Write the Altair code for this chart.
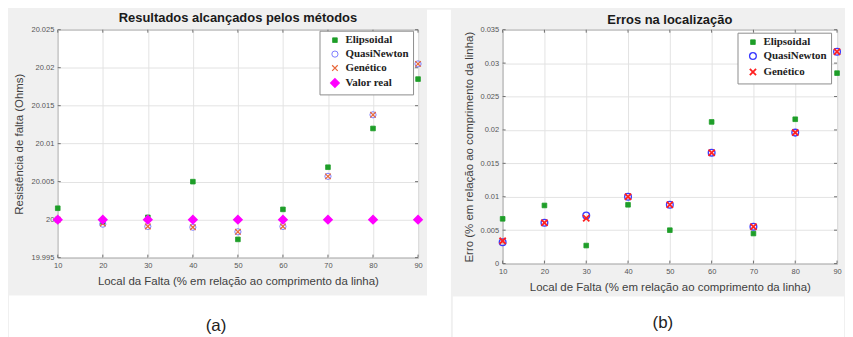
import altair as alt
import pandas as pd

# ---------------- data ----------------
locais = [10, 20, 30, 40, 50, 60, 70, 80, 90]

series_a = ["Elipsoidal", "QuasiNewton", "Genético", "Valor real"]
res_elipsoidal = [20.0015, 19.9997, 20.0003, 20.0050, 19.9974, 20.00135, 20.0069, 20.0120, 20.0185]
res_quasinewton = [20.0000, 19.9994, 19.9991, 19.9990, 19.9984, 19.9991, 20.0057, 20.0138, 20.0205]
res_genetico = [20.0000, 19.9995, 19.9991, 19.9990, 19.9984, 19.9991, 20.0057, 20.0138, 20.0205]
res_valor_real = [20.0, 20.0, 20.0, 20.0, 20.0, 20.0, 20.0, 20.0, 20.0]

series_b = ["Elipsoidal", "QuasiNewton", "Genético"]
err_elipsoidal = [0.0067, 0.0087, 0.0027, 0.0088, 0.0050, 0.0212, 0.0045, 0.0216, 0.0285]
err_quasinewton = [0.0032, 0.0061, 0.0072, 0.0100, 0.0088, 0.0166, 0.0055, 0.0196, 0.0317]
err_genetico = [0.0034, 0.0061, 0.0068, 0.0100, 0.0088, 0.0166, 0.0055, 0.0196, 0.0317]

yticks_a = [19.995, 20.0, 20.005, 20.01, 20.015, 20.02, 20.025]
yticks_b = [0.0, 0.005, 0.01, 0.015, 0.02, 0.025, 0.03, 0.035]

title_a = "Resultados alcançados pelos métodos"
title_b = "Erros na localização"
xtitle_a = "Local da Falta (% em relação ao comprimento da linha)"
xtitle_b = "Local de Falta (% em relação ao comprimento da linha)"
ytitle_a = "Resistência de falta (Ohms)"
ytitle_b = "Erro (% em relação ao comprimento da linha)"


def long_df(series, columns):
    rows = []
    for k, (name, vals) in enumerate(zip(series, columns)):
        for x, v in zip(locais, vals):
            rows.append({"local": x, "valor": v, "serie": name, "ordem": k})
    return pd.DataFrame(rows)


df_a = long_df(series_a, [res_elipsoidal, res_quasinewton, res_genetico, res_valor_real])
df_b = long_df(series_b, [err_elipsoidal, err_quasinewton, err_genetico])

X_SHAPE = "M-0.75,-0.75L0.75,0.75M-0.75,0.75L0.75,-0.75"
BG = "#f0f0f0"
AXC = "#6e6e6e"


def panel(df, series, styles, ydom, yticks, W, H, title, title_y, xtitle, ytitle,
          leg_xy, caption, cap_xy, left, top, right, bottom, gap=None):
    shapes = [styles[s][0] for s in series]
    strokes = [styles[s][1] for s in series]
    fills = [styles[s][2] for s in series]
    sizes = [styles[s][3] for s in series]
    sws = [styles[s][4] for s in series]

    leg = alt.Legend(title=None, orient="none", legendX=leg_xy[0], legendY=leg_xy[1],
                     fillColor="white", strokeColor="#8c8c8c", padding=4,
                     labelFont="Liberation Serif", labelFontSize=11, labelColor="#222222",
                     labelFontWeight="bold", rowPadding=2, symbolOffset=6, labelOffset=5)

    xscale = alt.Scale(domain=[10, 90], nice=False, zero=False)
    yscale = alt.Scale(domain=ydom, nice=False, zero=False)
    xaxis = alt.Axis(values=locais, title=xtitle, grid=True, gridColor="#e3e3e3",
                     domain=False, ticks=False, labelFontSize=7.5, labelFlush=False,
                     labelColor="#555555", labelFont="Liberation Sans",
                     labelPadding=4, titleFont="Liberation Sans",
                     titleFontSize=11.5, titleFontWeight="normal",
                     titleColor="#404040", titlePadding=7)
    yaxis = alt.Axis(values=yticks, format="~g", title=ytitle, grid=True,
                     gridColor="#e3e3e3", domain=False, ticks=False, labelFlush=False,
                     labelFontSize=7.5, labelColor="#555555",
                     labelFont="Liberation Sans", labelPadding=4,
                     titleFont="Liberation Sans", titleFontSize=11.5,
                     titleFontWeight="normal", titleColor="#404040",
                     titlePadding=6)

    pts = alt.Chart(df).mark_point(opacity=1, clip=False).encode(
        x=alt.X("local:Q", scale=xscale, axis=xaxis),
        y=alt.Y("valor:Q", scale=yscale, axis=yaxis),
        shape=alt.Shape("serie:N", scale=alt.Scale(domain=series, range=shapes), legend=leg),
        stroke=alt.Stroke("serie:N", scale=alt.Scale(domain=series, range=strokes), legend=leg),
        fill=alt.Fill("serie:N", scale=alt.Scale(domain=series, range=fills), legend=leg),
        size=alt.Size("serie:N", scale=alt.Scale(domain=series, range=sizes), legend=leg),
        strokeWidth=alt.StrokeWidth("serie:N", scale=alt.Scale(domain=series, range=sws), legend=leg),
        order=alt.Order("ordem:Q"),
    )

    xt = pd.DataFrame({"local": locais})
    yt = pd.DataFrame({"valor": yticks})
    tick_xb = alt.Chart(xt).mark_rule(color=AXC).encode(
        x=alt.X("local:Q", scale=xscale, axis=xaxis), y=alt.value(H), y2=alt.value(H - 3))
    tick_xt = alt.Chart(xt).mark_rule(color=AXC).encode(
        x=alt.X("local:Q", scale=xscale, axis=xaxis), y=alt.value(0), y2=alt.value(3))
    tick_yl = alt.Chart(yt).mark_rule(color=AXC).encode(
        y=alt.Y("valor:Q", scale=yscale, axis=yaxis), x=alt.value(0), x2=alt.value(3))
    tick_yr = alt.Chart(yt).mark_rule(color=AXC).encode(
        y=alt.Y("valor:Q", scale=yscale, axis=yaxis), x=alt.value(W - 3), x2=alt.value(W))

    one = pd.DataFrame({"k": [0]})
    layers = []
    # panel frame extent (same colour as background) fixes the cell bounds
    layers.append(alt.Chart(one).mark_rect(color=BG).encode(
        x=alt.value(-left), x2=alt.value(-left + 1), y=alt.value(-top), y2=alt.value(-top + 1)))
    if gap is not None:
        layers.append(alt.Chart(one).mark_rect(color="white").encode(
            x=alt.value(W + gap[0]), x2=alt.value(W + gap[1]),
            y=alt.value(-top), y2=alt.value(H + gap[2])))
    layers.append(alt.Chart(one).mark_rect(color="white").encode(
        x=alt.value(-left), x2=alt.value(W + right),
        y=alt.value(H + bottom[0]), y2=alt.value(H + bottom[1])))

    ttl = alt.Chart(one).mark_text(font="Liberation Sans", fontSize=13, fontWeight="bold",
                                   color="#1a1a1a", baseline="middle", align="center").encode(
        x=alt.value(W / 2), y=alt.value(title_y), text=alt.value(title))
    cap = alt.Chart(one).mark_text(font="Liberation Sans", fontSize=17, color="#222222",
                                   baseline="middle", align="center").encode(
        x=alt.value(cap_xy[0]), y=alt.value(cap_xy[1]), text=alt.value(caption))

    ch = alt.layer(*layers, tick_xb, tick_xt, tick_yl, tick_yr, pts, ttl, cap).properties(
        width=W, height=H)
    return ch


styles_a = {
    "Elipsoidal": ("square", "#1e9e28", "#1e9e28", 22, 0.8),
    "QuasiNewton": ("circle", "#7c7cff", "transparent", 72, 1.4),
    "Genético": (X_SHAPE, "#e8673a", "transparent", 22, 1.4),
    "Valor real": ("diamond", "#ff00ff", "#ff00ff", 45, 0.8),
}
styles_b = {
    "Elipsoidal": ("square", "#1e9e28", "#1e9e28", 22, 0.8),
    "QuasiNewton": ("circle", "#3a3aff", "transparent", 70, 1.8),
    "Genético": (X_SHAPE, "#ff2020", "transparent", 24, 1.7),
}

ca = panel(df_a, series_a, styles_a, [19.995, 20.025], yticks_a, 362, 229,
           title_a, -11.5, xtitle_a, ytitle_a, (263, 1), "(a)", (159, 298),
           left=49, top=20, right=9, bottom=(38, 90), gap=(9, 33, 90))
cb = panel(df_b, series_b, styles_b, [0.0, 0.035], yticks_b, 336, 235,
           title_b, -9.5, xtitle_b, ytitle_b, (236, 3), "(b)", (161, 295),
           left=50, top=19, right=7, bottom=(33, 84))

chart = alt.hconcat(ca, cb, spacing=0).resolve_scale(
    x="independent", y="independent", shape="independent", stroke="independent",
    fill="independent", size="independent", strokeWidth="independent"
).configure(
    background=BG, padding={"left": 0, "top": 0, "right": 0, "bottom": 0}
).configure_view(stroke=AXC, fill="white")

chart.save("out.html", embed_options={"renderer": "svg", "actions": False})
